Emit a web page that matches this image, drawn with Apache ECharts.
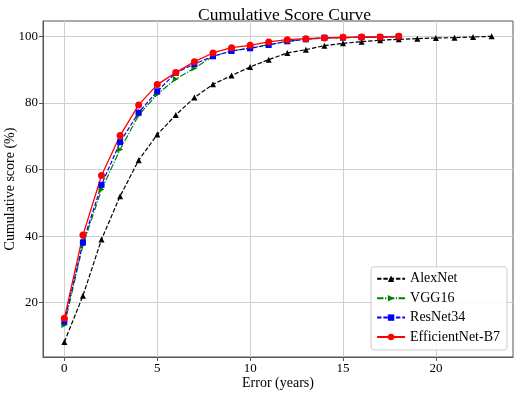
<!DOCTYPE html>
<html>
<head>
<meta charset="utf-8">
<script src="https://cdn.jsdelivr.net/npm/echarts@6/dist/echarts.min.js"></script>
<style>html,body{margin:0;padding:0;background:#fff}#c{width:518px;height:393px}</style>
</head>
<body>
<div id="c"></div>
<script>
const errorsAlex = [0,1,2,3,4,5,6,7,8,9,10,11,12,13,14,15,16,17,18,19,20,21,22,23];
const errorsOthers = [0,1,2,3,4,5,6,7,8,9,10,11,12,13,14,15,16,17,18];
const alexnet = [8.2,22.1,39.0,52.0,62.8,70.5,76.4,81.6,85.6,88.2,90.8,93.0,95.0,96.0,97.2,97.9,98.4,98.8,99.1,99.3,99.5,99.6,99.8,100];
const vgg16 = [13.3,37.3,54.0,66.0,76.3,82.6,87.2,90.4,94.0,95.6,96.5,97.5,98.5,99.1,99.5,99.6,99.7,99.8,99.9];
const resnet34 = [14.3,38.1,55.4,68.2,77.1,83.5,89.0,91.7,94.0,95.6,96.4,97.4,98.5,99.1,99.6,99.6,99.7,99.7,99.9];
const efficientnet = [15.3,40.3,58.2,70.2,79.4,85.5,89.1,92.4,95.0,96.6,97.3,98.3,99.0,99.3,99.5,99.7,99.8,99.8,100];
const xTicks = [0,5,10,15,20];
const yTicks = [20,40,60,80,100];

const FONT = 'Liberation Serif';
const pairs = (xs, ys) => xs.map((x, i) => [x, ys[i]]);
const chart = echarts.init(document.getElementById('c'), null, {renderer: 'canvas'});
chart.setOption({
  animation: false,
  backgroundColor: '#fff',
  title: {
    text: 'Cumulative Score Curve', left: 193, top: 1,
    textStyle: {fontFamily: FONT, fontSize: 17.5, fontWeight: 'normal', color: '#000'}
  },
  grid: {left: 43, right: 5, top: 21, bottom: 36, show: true, borderColor: '#555', borderWidth: 1,
         containLabel: false, outerBoundsMode: 'none'},
  xAxis: {
    type: 'value', min: -1.15, max: 24.15,
    name: 'Error (years)', nameLocation: 'middle', nameGap: 19, nameMoveOverlap: false,
    nameTextStyle: {fontFamily: FONT, fontSize: 14, color: '#000'},
    axisLine: {show: true, onZero: false, lineStyle: {color: '#555'}},
    axisTick: {show: true, customValues: xTicks, length: 4, lineStyle: {color: '#555'}},
    axisLabel: {customValues: xTicks, fontFamily: FONT, fontSize: 13, color: '#000', margin: 5},
    splitLine: {show: true, lineStyle: {color: '#d0d0d0', width: 1}}
  },
  yAxis: {
    type: 'value', min: 3.7, max: 104.6,
    name: 'Cumulative score (%)', nameLocation: 'middle', nameGap: 26, nameRotate: 90, nameMoveOverlap: false,
    nameTextStyle: {fontFamily: FONT, fontSize: 14, color: '#000'},
    axisLine: {show: true, onZero: false, lineStyle: {color: '#555'}},
    axisTick: {show: true, customValues: yTicks, length: 4, lineStyle: {color: '#555'}},
    axisLabel: {customValues: yTicks, fontFamily: FONT, fontSize: 13, color: '#000', margin: 5},
    splitLine: {show: true, lineStyle: {color: '#d0d0d0', width: 1}}
  },
  legend: {
    right: 11, bottom: 43, orient: 'vertical',
    backgroundColor: 'rgba(255,255,255,0.85)', borderColor: '#ccc', borderWidth: 1, borderRadius: 3,
    padding: [5, 7, 6, 5], itemGap: 5.4, itemWidth: 28, itemHeight: 8,
    textStyle: {fontFamily: FONT, fontSize: 14, color: '#000'},
    data: ['AlexNet', 'VGG16', 'ResNet34', 'EfficientNet-B7']
  },
  series: [
    {name: 'AlexNet', type: 'line', data: pairs(errorsAlex, alexnet),
     symbol: 'triangle', symbolSize: 6, color: '#000',
     lineStyle: {color: '#000', width: 1.2, type: [4.4, 1.9]}, itemStyle: {color: '#000'}},
    {name: 'VGG16', type: 'line', data: pairs(errorsOthers, vgg16),
     symbol: 'triangle', symbolRotate: -90, symbolSize: 6, color: '#008000',
     lineStyle: {color: '#008000', width: 1.2, type: [6.4, 1.6, 1.2, 1.6]}, itemStyle: {color: '#008000'}},
    {name: 'ResNet34', type: 'line', data: pairs(errorsOthers, resnet34),
     symbol: 'rect', symbolSize: 6, color: '#0000ff',
     lineStyle: {color: '#0000ff', width: 1.2, type: [4.4, 1.9]}, itemStyle: {color: '#0000ff'}},
    {name: 'EfficientNet-B7', type: 'line', data: pairs(errorsOthers, efficientnet),
     symbol: 'circle', symbolSize: 7, color: '#ff0000',
     lineStyle: {color: '#ff0000', width: 1.3}, itemStyle: {color: '#ff0000'}}
  ]
});
</script>
</body>
</html>
